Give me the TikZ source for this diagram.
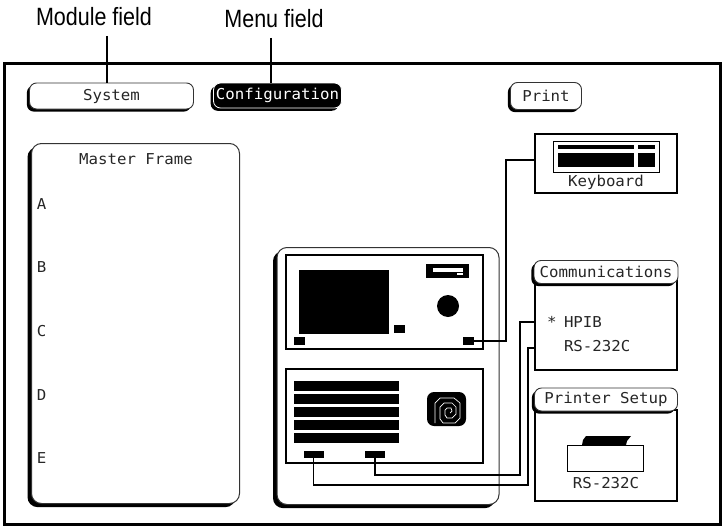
\documentclass[tikz,border=0pt]{standalone}
\usepackage{fontspec}
\usetikzlibrary{shadows}
\newfontfamily\hpfont[FakeStretch=1.05]{DejaVu Sans Mono}
\newfontfamily\lblfont[FakeStretch=.86]{Liberation Sans}
\tikzset{
  x=1pt,y=-1pt,
  every node/.style={inner sep=0pt,outer sep=0pt},
  lbl/.style={font=\lblfont\fontsize{25}{28}\selectfont,text=black},
  hp/.style={font=\hpfont\fontsize{15}{17}\selectfont,text=black!85},
  leader/.style={draw=black,line width=2pt},
  wire/.style={draw=black,line width=1.8pt},
  bezel/.style={draw=black,line width=2pt,fill=white},
  thinbox/.style={draw=black,line width=1pt,fill=white},
  solid block/.style={fill=black},
  softkey/.style={hp,draw=black!80,line width=.9pt,fill=white,rounded corners=7pt,
    general shadow={fill=black,shadow xshift=-2.6pt,shadow yshift=-2.6pt}},
  softkey on/.style={hp,text=white,draw=white,line width=.8pt,fill=black,rounded corners=7pt,
    general shadow={fill=black,shadow xshift=-2.8pt,shadow yshift=-2.8pt}},
  frame/.style={draw=black!80,line width=1pt,fill=white,rounded corners=10pt,
    general shadow={fill=black,shadow xshift=-4pt,shadow yshift=-3.6pt}},
}
\begin{document}
\begin{tikzpicture}
\useasboundingbox (0,0) rectangle (722,527);
\fill[white] (0,0) rectangle (722,527);
% screen frame
\node[draw=black,line width=3pt,minimum width=716pt,minimum height=461pt] (screen) at (362.5,293.5) {};
% field labels
\node[lbl] (modlbl) at (94,17) {Module field};
\node[lbl] (menulbl) at (274,19) {Menu field};
% top softkeys
\node[softkey,minimum width=164pt,minimum height=26pt] (system) at (111.5,96) {System};
\node[softkey on,minimum width=128pt,minimum height=25pt] (config) at (277.5,95.5) {Configuration};
\node[softkey,minimum width=71pt,minimum height=27pt] (print) at (546,96) {Print};
\draw[leader] (107,36) -- (system.north -| 107,0);
\draw[leader] (271,38) -- (config.north -| 271,0);
% master frame
\node[frame,minimum width=208pt,minimum height=360pt] (master) at (135.5,323.5) {};
\node[hp] (mtitle) at (136,159) {Master Frame};
\node[hp] (sa) at (41.5,204) {A};
\node[hp] (sb) at (41.5,267) {B};
\node[hp] (sc) at (41.5,331) {C};
\node[hp] (sd) at (41.5,395) {D};
\node[hp] (se) at (41.5,458) {E};
% cabinet
\node[frame,minimum width=222pt,minimum height=257pt] (cabinet) at (388,376) {};
\node[bezel,minimum width=197pt,minimum height=94pt] (upper) at (384.5,302) {};
\node[bezel,minimum width=197pt,minimum height=94pt] (lower) at (384.5,416) {};
% upper panel contents
\node[solid block,minimum width=90pt,minimum height=64pt] (crt) at (344,302) {};
\node[solid block,minimum width=11pt,minimum height=8pt] (btna) at (299.5,341) {};
\node[solid block,minimum width=11pt,minimum height=8pt] (btnb) at (399.5,329) {};
\node[solid block,minimum width=11pt,minimum height=8pt] (portk) at (468.5,341) {};
\node[solid block,minimum width=43pt,minimum height=14pt] (drive) at (447.5,271) {};
\fill[white] (433,268) rectangle (463,272);
\fill[white] (457,273) rectangle (463,275);
\node[solid block,circle,minimum size=22pt] (knob) at (448,306) {};
% lower panel contents
\node[solid block,minimum width=105pt,minimum height=10.5pt] (vent1) at (346.5,386) {};
\node[solid block,minimum width=105pt,minimum height=10.5pt] (vent2) at (346.5,399) {};
\node[solid block,minimum width=105pt,minimum height=10.5pt] (vent3) at (346.5,412) {};
\node[solid block,minimum width=105pt,minimum height=10.5pt] (vent4) at (346.5,425) {};
\node[solid block,minimum width=105pt,minimum height=10.5pt] (vent5) at (346.5,438) {};
\node[solid block,minimum width=20pt,minimum height=7pt] (porta) at (313.5,454.5) {};
\node[solid block,minimum width=20pt,minimum height=7pt] (portb) at (375,454.5) {};
\node[solid block,rounded corners=7pt,minimum width=39pt,minimum height=34pt] (fan) at (446.5,409) {};
\draw[white,line width=.7pt] (435,423) -- (435,403) -- (440,398) -- (454,398) -- (460,403) -- (460,418) -- (455,423) -- (443,423) -- (440,419) -- (440,407) -- (444,403) -- (452,403) -- (456,407) -- (456,414) -- (452,418) -- (447,418) -- (445,415) -- (445,410) -- (447,408) -- (451,408) -- (452,411) -- (450,413);
% keyboard
\node[bezel,minimum width=142pt,minimum height=59pt] (kbd) at (606,163.5) {};
\node[thinbox,minimum width=106pt,minimum height=31pt] (keys) at (606,156.5) {};
\node[solid block,minimum width=76pt,minimum height=3.5pt] (ka) at (596,147) {};
\node[solid block,minimum width=17pt,minimum height=3.5pt] (kb) at (646.5,147) {};
\node[solid block,minimum width=76pt,minimum height=14.5pt] (kc) at (596,160) {};
\node[solid block,minimum width=17pt,minimum height=14.5pt] (kd) at (646.5,160) {};
\node[hp] (kbdtxt) at (606,182) {Keyboard};
% communications
\node[bezel,minimum width=142pt,minimum height=90pt] (comm) at (606,325) {};
\node[softkey,minimum width=144pt,minimum height=23pt] (commkey) at (606,272) {Communications};
\node[hp,anchor=west] (star) at (547,322) {*};
\node[hp,anchor=west] (hpib) at (564,322) {HPIB};
\node[hp,anchor=west] (rs) at (564,346) {RS-232C};
% printer setup
\node[bezel,minimum width=142pt,minimum height=91pt] (prn) at (606,455.5) {};
\node[softkey,minimum width=143pt,minimum height=23pt] (prnkey) at (606,399.5) {Printer Setup};
\node[thinbox,minimum width=76pt,minimum height=26pt] (printer) at (605,458) {};
\fill[black] (582,445) -- (583,440) -- (586,436) -- (631,436) -- (627,441) -- (626,445) -- cycle;
\node[hp] (prntxt) at (606,483) {RS-232C};
% connectors
\coordinate (kbdin) at (kbd.west |- 0,160);
\coordinate (hpibin) at (comm.west |- 0,322);
\coordinate (rsin) at (comm.west |- 0,348);
\draw[wire] (portk.east) -- ++(32,0) |- (kbdin);
\draw[wire] (portb.south) -- ++(0,17) -- ++(145,0) |- (hpibin);
\draw[wire] (porta.south) -- ++(0,27) -- ++(214.5,0) |- (rsin);
\end{tikzpicture}
\end{document}
